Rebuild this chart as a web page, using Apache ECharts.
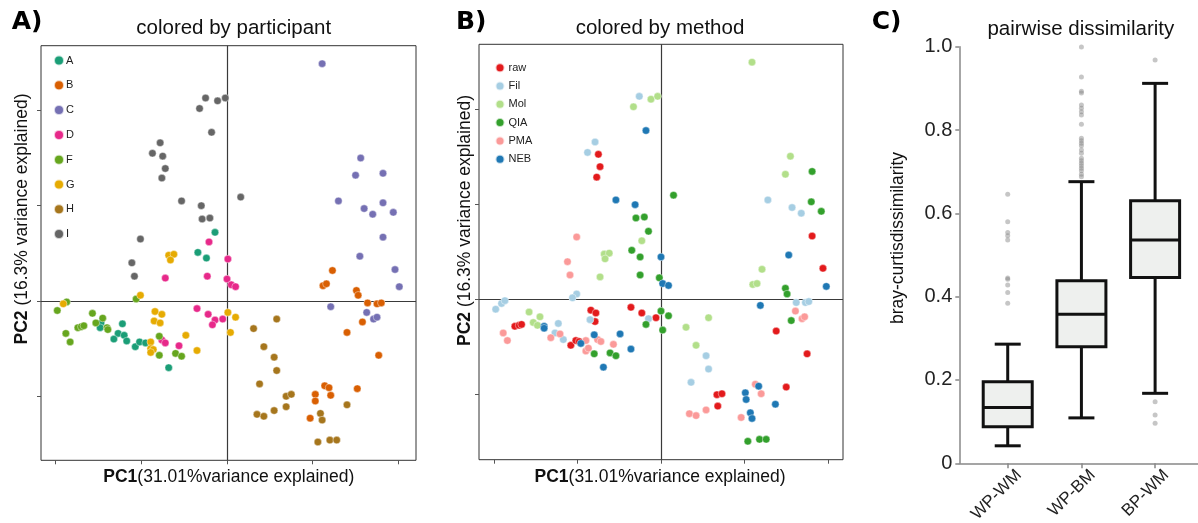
<!DOCTYPE html>
<html>
<head>
<meta charset="utf-8">
<script src="https://cdn.jsdelivr.net/npm/echarts@6/dist/echarts.min.js"></script>
<style>
  html, body { margin: 0; padding: 0; background: #fff; }
  #chart { width: 1198px; height: 523px; }
</style>
</head>
<body>
<div id="chart"></div>
<script>
// ---- PCA scores (PC1, PC2), grouped by participant ----
const participants = ['A', 'B', 'C', 'D', 'F', 'G', 'H', 'I'];
const participantColors = ['#1b9e77', '#d95f02', '#7570b3', '#e7298a', '#66a61e', '#e6ab02', '#a6761d', '#666666'];

const partA = [[-0.14,0.72],[-0.34,0.51],[-0.24,0.45],[-1.47,-0.23],[-1.48,-0.28],[-1.22,-0.24],[-1.27,-0.34],[-1.20,-0.36],[-1.32,-0.40],[-1.17,-0.42],[-1.07,-0.48],[-1.02,-0.43],[-0.95,-0.44],[-0.68,-0.70]];
const partB = [[1.23,0.32],[1.12,0.16],[1.16,0.18],[1.51,0.11],[1.53,0.06],[1.64,-0.02],[1.75,-0.03],[1.80,-0.02],[1.58,-0.22],[1.40,-0.33],[1.77,-0.57],[1.14,-0.89],[1.19,-0.91],[1.52,-0.92],[1.03,-0.98],[1.03,-1.05],[1.21,-0.99],[0.97,-1.23]];
const partC = [[1.11,2.49],[1.56,1.50],[1.50,1.32],[1.82,1.34],[1.30,1.05],[1.60,0.97],[1.82,1.03],[1.70,0.91],[1.94,0.93],[1.82,0.67],[1.55,0.47],[1.96,0.33],[2.01,0.15],[1.21,-0.06],[1.63,-0.12],[1.71,-0.19],[1.75,-0.17]];
const partD = [[-0.21,0.62],[0.01,0.44],[-0.72,0.24],[-0.23,0.26],[0.00,0.23],[0.05,0.17],[0.10,0.15],[-0.35,-0.08],[-0.22,-0.14],[-0.14,-0.20],[-0.17,-0.25],[-0.05,-0.19],[-0.76,-0.41],[-0.72,-0.44],[-0.56,-0.47]];
const partF = [[-1.87,-0.01],[-1.98,-0.10],[-1.88,-0.34],[-1.83,-0.43],[-1.74,-0.28],[-1.70,-0.27],[-1.67,-0.26],[-1.57,-0.13],[-1.53,-0.23],[-1.45,-0.18],[-1.40,-0.28],[-1.39,-0.30],[-1.06,0.02],[-0.79,-0.37],[-0.79,-0.57],[-0.60,-0.55],[-0.53,-0.58]];
const partG = [[-1.91,-0.03],[-1.01,0.06],[-0.68,0.48],[-0.62,0.49],[-0.66,0.43],[-0.84,-0.11],[-0.76,-0.14],[-0.85,-0.21],[-0.78,-0.23],[-0.89,-0.43],[-0.89,-0.50],[-0.86,-0.51],[-0.89,-0.54],[-0.48,-0.36],[-0.35,-0.52],[0.01,-0.12],[0.10,-0.17],[0.04,-0.33]];
const partH = [[0.58,-0.19],[0.31,-0.29],[0.43,-0.48],[0.55,-0.59],[0.58,-0.73],[0.38,-0.87],[0.69,-1.00],[0.75,-0.98],[0.69,-1.11],[0.55,-1.15],[0.35,-1.19],[0.43,-1.21],[1.40,-1.09],[1.09,-1.18],[1.11,-1.25],[1.06,-1.48],[1.20,-1.46],[1.28,-1.46]];
const partI = [[-0.25,2.13],[-0.11,2.10],[-0.02,2.13],[-0.32,2.02],[-0.18,1.77],[-0.78,1.66],[-0.87,1.55],[-0.75,1.52],[-0.72,1.39],[-0.76,1.29],[-0.53,1.05],[0.16,1.09],[-0.30,1.00],[-0.29,0.86],[-0.20,0.87],[-1.01,0.65],[-1.11,0.40],[-1.08,0.26]];

// ---- PCA scores (PC1, PC2), grouped by method ----
const methods = ['raw', 'Fil', 'Mol', 'QIA', 'PMA', 'NEB'];
const methodColors = ['#e31a1c', '#a6cee3', '#b2df8a', '#33a02c', '#fb9a99', '#1f78b4'];

const methodRaw = [[-0.75,1.53],[-0.73,1.40],[-0.77,1.29],[1.81,0.67],[-1.75,-0.28],[-1.70,-0.27],[-1.67,-0.26],[-0.84,-0.11],[-0.78,-0.14],[-0.79,-0.23],[-1.08,-0.48],[-1.02,-0.43],[-0.98,-0.44],[-0.36,-0.08],[-0.23,-0.14],[-0.06,-0.19],[1.94,0.33],[1.38,-0.33],[1.75,-0.57],[1.50,-0.92],[0.67,-1.00],[0.73,-0.99],[0.68,-1.12]];
const methodFil = [[-0.26,2.14],[-0.79,1.66],[-0.88,1.55],[1.28,1.05],[1.57,0.97],[1.68,0.91],[-1.01,0.06],[-1.06,0.02],[-1.98,-0.10],[-1.91,-0.04],[-1.87,-0.01],[-1.23,-0.25],[-1.27,-0.35],[-1.17,-0.42],[-0.85,-0.21],[-0.15,-0.20],[1.62,-0.03],[1.73,-0.03],[1.77,-0.02],[0.54,-0.59],[0.57,-0.73],[0.36,-0.87]];
const methodMol = [[1.09,2.50],[-0.12,2.11],[-0.04,2.14],[-0.33,2.03],[1.55,1.51],[1.49,1.32],[-0.23,0.62],[-0.68,0.48],[-0.62,0.49],[-0.67,0.43],[-0.73,0.24],[-1.58,-0.13],[-1.53,-0.24],[-1.45,-0.18],[-1.48,-0.27],[1.21,0.32],[1.10,0.16],[1.15,0.17],[0.57,-0.19],[0.30,-0.29],[0.42,-0.48]];
const methodQIA = [[1.81,1.35],[1.80,1.03],[1.92,0.93],[0.15,1.10],[-0.30,0.86],[-0.20,0.87],[-0.15,0.72],[-0.35,0.52],[-0.25,0.45],[-0.25,0.26],[-0.02,0.23],[-0.18,-0.26],[0.00,-0.12],[0.09,-0.17],[0.02,-0.32],[-0.80,-0.57],[-0.61,-0.56],[-0.54,-0.59],[1.49,0.12],[1.51,0.06],[1.56,-0.22],[1.04,-1.49],[1.18,-1.47],[1.26,-1.47]];
const methodPMA = [[-1.01,0.66],[-1.12,0.40],[-1.09,0.26],[-1.89,-0.35],[-1.84,-0.43],[-1.21,-0.36],[-1.32,-0.40],[-0.90,-0.43],[-0.90,-0.54],[-0.87,-0.51],[-0.76,-0.42],[-0.72,-0.44],[-0.57,-0.47],[1.61,-0.12],[1.69,-0.20],[1.72,-0.18],[1.13,-0.89],[1.20,-0.99],[0.34,-1.20],[0.42,-1.22],[0.54,-1.16],[0.96,-1.24]];
const methodNEB = [[-0.18,1.78],[-0.54,1.05],[-0.31,1.00],[0.00,0.45],[1.53,0.47],[0.02,0.17],[0.09,0.15],[-1.40,-0.28],[-1.40,-0.30],[-0.96,-0.46],[-0.80,-0.37],[-0.49,-0.36],[-0.36,-0.52],[-0.69,-0.71],[1.98,0.14],[1.19,-0.06],[1.17,-0.91],[1.01,-0.98],[1.02,-1.05],[1.37,-1.10],[1.07,-1.19],[1.09,-1.25]];

// PCA axis tick positions
const pcXTicks = [-2, -1, 0, 1, 2];
const pcYTicks = [-1, 0, 1, 2];

// ---- pairwise Bray-Curtis dissimilarity ----
const pairCategories = ['WP-WM', 'WP-BM', 'BP-WM'];
// [lower whisker, Q1, median, Q3, upper whisker]
const boxWPWM = [0.042, 0.088, 0.134, 0.196, 0.286];
const boxWPBM = [0.109, 0.280, 0.358, 0.438, 0.676];
const boxBPWM = [0.168, 0.446, 0.536, 0.630, 0.912];
const outWPWM = [0.646, 0.580, 0.554, 0.546, 0.536, 0.445, 0.442, 0.428, 0.410, 0.384];
const outWPBM = [0.999, 0.927, 0.893, 0.889, 0.860, 0.852, 0.844, 0.836, 0.814, 0.780, 0.774, 0.768, 0.762, 0.752, 0.744, 0.732, 0.726, 0.720, 0.714, 0.708, 0.702, 0.694, 0.688];
const outBPWM = [0.968, 0.148, 0.116, 0.096];
const dissimTicks = [0, 0.2, 0.4, 0.6, 0.8, 1.0];

const FONT = 'Liberation Sans, Arial, sans-serif';
const partGroups = [partA, partB, partC, partD, partF, partG, partH, partI];
const methodGroups = [methodRaw, methodFil, methodMol, methodQIA, methodPMA, methodNEB];
const boxes = [boxWPWM, boxWPBM, boxBPWM];
const outliers = [outWPWM, outWPBM, outBPWM];

// rotated category labels sit a little right of their tick, hanging below the axis
const labelShift = 0.07;

function pcAxes(gridIndex, xr, yr) {
  return {
    x: {
      type: 'value', gridIndex: gridIndex, min: xr[0], max: xr[1],
      axisLine: { show: false, onZero: false },
      axisTick: { show: true, inside: false, length: 4, customValues: pcXTicks, lineStyle: { color: '#555' } },
      axisLabel: { show: false },
      splitLine: { show: false }
    },
    y: {
      type: 'value', gridIndex: gridIndex, min: yr[0], max: yr[1],
      axisLine: { show: false, onZero: false },
      axisTick: { show: true, inside: false, length: 4, customValues: pcYTicks, lineStyle: { color: '#555' } },
      axisLabel: { show: false },
      splitLine: { show: false }
    }
  };
}

const axA = pcAxes(0, [-2.17, 2.205], [-1.672, 2.679]);
const axB = pcAxes(1, [-2.18, 2.18], [-1.684, 2.688]);

const series = [];

// zero reference lines for both PCA panels
[0, 1].forEach(function (i) {
  series.push({
    type: 'scatter', name: 'zero' + i, xAxisIndex: i, yAxisIndex: i, data: [], silent: true, z: 1,
    markLine: {
      silent: true, symbol: ['none', 'none'], label: { show: false }, z: 1,
      lineStyle: { color: '#3a3a3a', width: 1.2, type: 'solid' },
      emphasis: { disabled: true },
      data: [{ xAxis: 0 }, { yAxis: 0 }]
    }
  });
});

participants.forEach(function (name, i) {
  series.push({
    type: 'scatter', name: name, xAxisIndex: 0, yAxisIndex: 0, z: 3,
    symbolSize: 7.5,
    itemStyle: { color: participantColors[i], opacity: 1, borderColor: 'rgba(255,255,255,0.7)', borderWidth: 0.6 },
    data: partGroups[i]
  });
});

methods.forEach(function (name, i) {
  series.push({
    type: 'scatter', name: name, xAxisIndex: 1, yAxisIndex: 1, z: 3,
    symbolSize: 7.5,
    itemStyle: { color: methodColors[i], opacity: 1, borderColor: 'rgba(255,255,255,0.7)', borderWidth: 0.6 },
    data: methodGroups[i]
  });
});

// box-and-whisker glyphs
series.push({
  type: 'custom', name: 'dissimilarity', xAxisIndex: 2, yAxisIndex: 2, z: 3,
  data: boxes.map(function (b, i) { return [i].concat(b); }),
  encode: { x: 0, y: [1, 2, 3, 4, 5] },
  renderItem: function (params, api) {
    const x = api.value(0);
    const lo = api.coord([x, api.value(1)]);
    const q1 = api.coord([x, api.value(2)]);
    const md = api.coord([x, api.value(3)]);
    const q3 = api.coord([x, api.value(4)]);
    const hi = api.coord([x, api.value(5)]);
    const cx = lo[0];
    const hw = 24.5, cw = 13;
    const ls = { stroke: '#111', lineWidth: 3 };
    return {
      type: 'group',
      children: [
        { type: 'line', shape: { x1: cx, y1: hi[1], x2: cx, y2: q3[1] }, style: ls },
        { type: 'line', shape: { x1: cx, y1: q1[1], x2: cx, y2: lo[1] }, style: ls },
        { type: 'line', shape: { x1: cx - cw, y1: hi[1], x2: cx + cw, y2: hi[1] }, style: ls },
        { type: 'line', shape: { x1: cx - cw, y1: lo[1], x2: cx + cw, y2: lo[1] }, style: ls },
        { type: 'rect', shape: { x: cx - hw, y: q3[1], width: 2 * hw, height: q1[1] - q3[1] }, style: { fill: '#eef0ee', stroke: '#111', lineWidth: 3 } },
        { type: 'line', shape: { x1: cx - hw, y1: md[1], x2: cx + hw, y2: md[1] }, style: ls }
      ]
    };
  }
});

// outlying pairs
const outlierPoints = [];
outliers.forEach(function (arr, i) { arr.forEach(function (v) { outlierPoints.push([i, v]); }); });
series.push({
  type: 'scatter', name: 'outliers', xAxisIndex: 2, yAxisIndex: 2, z: 4,
  symbolSize: 5,
  itemStyle: { color: 'rgba(125,125,125,0.55)' },
  data: outlierPoints
});

const option = {
  animation: false,
  backgroundColor: '#fff',
  grid: [
    { left: 41, top: 45.7, width: 375, height: 414.6, show: true, borderColor: '#333', borderWidth: 1, backgroundColor: 'transparent', outerBoundsMode: 'none', containLabel: false },
    { left: 479, top: 44.3, width: 364, height: 415.4, show: true, borderColor: '#333', borderWidth: 1, backgroundColor: 'transparent', outerBoundsMode: 'none', containLabel: false },
    { left: 959.3, top: 46.7, width: 238.7, height: 416.6, outerBoundsMode: 'none', containLabel: false }
  ],
  xAxis: [
    axA.x, axB.x,
    {
      type: 'value', gridIndex: 2, min: -0.657, max: 2.582,
      axisLine: { show: true, onZero: false, lineStyle: { color: '#888', width: 1.5 } },
      axisTick: { show: true, length: 5, customValues: [0, 1, 2], lineStyle: { color: '#888', width: 1.5 } },
      axisLabel: {
        show: true, customValues: [0, 1, 2].map(function (i) { return i + labelShift; }),
        rotate: 45, margin: 3, verticalAlign: 'top',
        fontFamily: FONT, fontSize: 17, color: '#222',
        formatter: function (v) { return pairCategories[Math.floor(v)] || ''; }
      },
      splitLine: { show: false }
    }
  ],
  yAxis: [
    axA.y, axB.y,
    {
      type: 'value', gridIndex: 2, min: 0, max: 1, interval: 0.2,
      axisLine: { show: true, onZero: false, lineStyle: { color: '#888', width: 1.5 } },
      axisTick: { show: true, length: 4, customValues: dissimTicks, lineStyle: { color: '#888', width: 1.5 } },
      axisLabel: {
        show: true, margin: 7, fontFamily: FONT, fontSize: 20, color: '#222',
        formatter: function (v) { return v === 0 ? '0' : v.toFixed(1); }
      },
      splitLine: { show: false }
    }
  ],
  legend: [
    {
      data: participants, orient: 'vertical', left: 48, top: 49.5,
      itemWidth: 10, itemHeight: 10, itemGap: 12.8, icon: 'circle', selectedMode: false,
      textStyle: { fontFamily: FONT, fontSize: 11, color: '#222', padding: [0, 0, 0, -3] }
    },
    {
      data: methods, orient: 'vertical', left: 489.5, top: 57.2,
      itemWidth: 9, itemHeight: 9, itemGap: 7.3, icon: 'circle', selectedMode: false,
      textStyle: { fontFamily: FONT, fontSize: 11, color: '#222', padding: [0, 0, 0, -1] }
    }
  ],
  graphic: [
    { type: 'text', x: 11.7, y: 22.5, style: { text: 'A)', font: 'bold 25px "DejaVu Sans"', fill: '#000', textAlign: 'left', textVerticalAlign: 'middle' } },
    { type: 'text', x: 456, y: 22.5, style: { text: 'B)', font: 'bold 25px "DejaVu Sans"', fill: '#000', textAlign: 'left', textVerticalAlign: 'middle' } },
    { type: 'text', x: 871.7, y: 22.5, style: { text: 'C)', font: 'bold 25px "DejaVu Sans"', fill: '#000', textAlign: 'left', textVerticalAlign: 'middle' } },

    { type: 'text', x: 233.7, y: 28.5, style: { text: 'colored by participant', font: '20.5px ' + FONT, fill: '#111', textAlign: 'center', textVerticalAlign: 'middle' } },
    { type: 'text', x: 660, y: 28.5, style: { text: 'colored by method', font: '20.5px ' + FONT, fill: '#111', textAlign: 'center', textVerticalAlign: 'middle' } },
    { type: 'text', x: 1080.8, y: 29.5, style: { text: 'pairwise dissimilarity', font: '20.5px ' + FONT, fill: '#111', textAlign: 'center', textVerticalAlign: 'middle' } },

    { type: 'text', x: 228.8, y: 477.2, style: { text: '{b|PC1}(31.01%variance explained)', font: '17.5px ' + FONT, fill: '#111', textAlign: 'center', textVerticalAlign: 'middle', rich: { b: { fontWeight: 'bold', fontSize: 17.5, fontFamily: FONT, fill: '#111' } } } },
    { type: 'text', x: 660, y: 477.2, style: { text: '{b|PC1}(31.01%variance explained)', font: '17.5px ' + FONT, fill: '#111', textAlign: 'center', textVerticalAlign: 'middle', rich: { b: { fontWeight: 'bold', fontSize: 17.5, fontFamily: FONT, fill: '#111' } } } },

    { type: 'text', x: 21.7, y: 219, rotation: Math.PI / 2, style: { text: '{b|PC2} (16.3% variance explained)', font: '17.5px ' + FONT, fill: '#111', textAlign: 'center', textVerticalAlign: 'middle', rich: { b: { fontWeight: 'bold', fontSize: 17.5, fontFamily: FONT, fill: '#111' } } } },
    { type: 'text', x: 465, y: 220.5, rotation: Math.PI / 2, style: { text: '{b|PC2} (16.3% variance explained)', font: '17.5px ' + FONT, fill: '#111', textAlign: 'center', textVerticalAlign: 'middle', rich: { b: { fontWeight: 'bold', fontSize: 17.5, fontFamily: FONT, fill: '#111' } } } },

    { type: 'text', x: 898, y: 238, rotation: Math.PI / 2, style: { text: 'bray-curtisdissimilarity', font: '17.5px ' + FONT, fill: '#111', textAlign: 'center', textVerticalAlign: 'middle' } }
  ],
  series: series
};

const chart = echarts.init(document.getElementById('chart'), null, { renderer: 'canvas' });
chart.setOption(option);
</script>
</body>
</html>
